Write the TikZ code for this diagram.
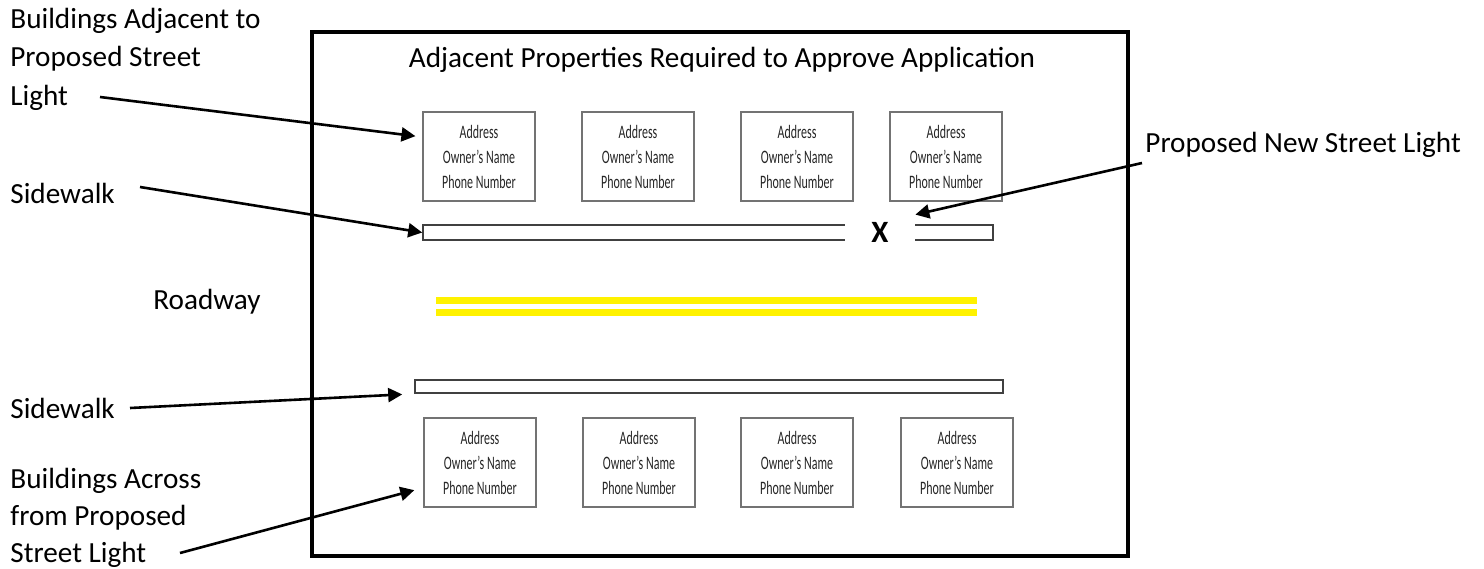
\documentclass[tikz,border=0pt]{standalone}
\usepackage{fontspec}
\setmainfont{Carlito}
\newfontfamily\narrowfont[FakeStretch=0.63]{Carlito}
\usetikzlibrary{arrows.meta,shadows}

\begin{document}
\begin{tikzpicture}[x=0.5pt, y=-0.5pt,
  callout/.style={align=left, inner sep=0pt, font=\fontsize{14.6}{19.25}\selectfont},
  bldg/.style={draw=black!55, line width=0.6pt, fill=white, minimum width=56pt, minimum height=44.5pt, inner sep=0pt, align=center, text=black!85, font=\narrowfont\fontsize{9.5}{12.5}\selectfont, drop shadow={shadow xshift=0.7pt, shadow yshift=-0.7pt, fill=black!60, opacity=0.6}},
  walk/.style={draw=black!75, line width=0.8pt, inner sep=0pt},
  pointer/.style={-{Triangle[length=7pt,width=7pt]}, line width=1.3pt},
  roadline/.style={yellow, line width=3.5pt}]
\fill[white] (0,0) rectangle (1484,568);
\useasboundingbox (0,0) rectangle (1484,568);

% outer frame and heading
\draw[line width=2pt] (312,32) rectangle (1128,556);
\node[callout, anchor=base] (title) at (722,67) {Adjacent Properties Required to Approve Application};

% buildings on the near side
\node[bldg] (bldgA1) at (479,156.5) {Address\\Owner’s Name\\Phone Number};
\node[bldg] (bldgA2) at (638,156.5) {Address\\Owner’s Name\\Phone Number};
\node[bldg] (bldgA3) at (797,156.5) {Address\\Owner’s Name\\Phone Number};
\node[bldg] (bldgA4) at (946,156.5) {Address\\Owner’s Name\\Phone Number};

% sidewalks, the light sits in a gap of the north one
\node[walk, minimum width=285pt, minimum height=7.5pt] (walkN) at (708,232.5) {};
\node[walk, minimum width=294pt, minimum height=6.5pt] (walkS) at (709,386.5) {};
\node[fill=white, minimum width=35pt, minimum height=17pt, inner sep=0pt, font=\bfseries\fontsize{15.5}{18}\selectfont] (xmark) at (880,232) {X};

% centre line of the road
\draw[roadline] (436,300.5) -- (977,300.5);
\draw[roadline] (436,312.5) -- (977,312.5);

% buildings across the road
\node[bldg] (bldgB1) at (480,462.5) {Address\\Owner’s Name\\Phone Number};
\node[bldg] (bldgB2) at (639,462.5) {Address\\Owner’s Name\\Phone Number};
\node[bldg] (bldgB3) at (797,462.5) {Address\\Owner’s Name\\Phone Number};
\node[bldg] (bldgB4) at (957,462.5) {Address\\Owner’s Name\\Phone Number};

% callouts (base of a multi-line node is its last line)
\node[callout, anchor=base west] (lblAdj) at (10,105) {Buildings Adjacent to\\Proposed Street\\Light};
\node[callout, anchor=base west] (lblWalkN) at (10,203) {Sidewalk};
\node[callout, anchor=base west] (lblRoad) at (153,309) {Roadway};
\node[callout, anchor=base west] (lblWalkS) at (10,418) {Sidewalk};
\node[callout, anchor=base west, font=\fontsize{14.6}{18.5}\selectfont] (lblAcross) at (10,562) {Buildings Across\\from Proposed\\Street Light};
\node[callout, anchor=base west] (lblLight) at (1145,152) {Proposed New Street Light};

\coordinate (tailAdj) at (100,97);
\coordinate (tailWalkN) at (140,187);
\coordinate (tailWalkS) at (130,408);
\coordinate (tailAcross) at (180,553);
\coordinate (tailLight) at (1142,163);

\draw[pointer, shorten >=3.5pt] (tailAdj) -- (bldgA1.161);
\draw[pointer] (tailWalkN) -- (walkN.west);
\draw[pointer, shorten >=6pt] (tailWalkS) -- (walkS.south west);
\draw[pointer, shorten >=4.7pt] (tailAcross) -- (bldgB1.204);
\draw[pointer] (tailLight) -- (xmark.north east);
\end{tikzpicture}
\end{document}
